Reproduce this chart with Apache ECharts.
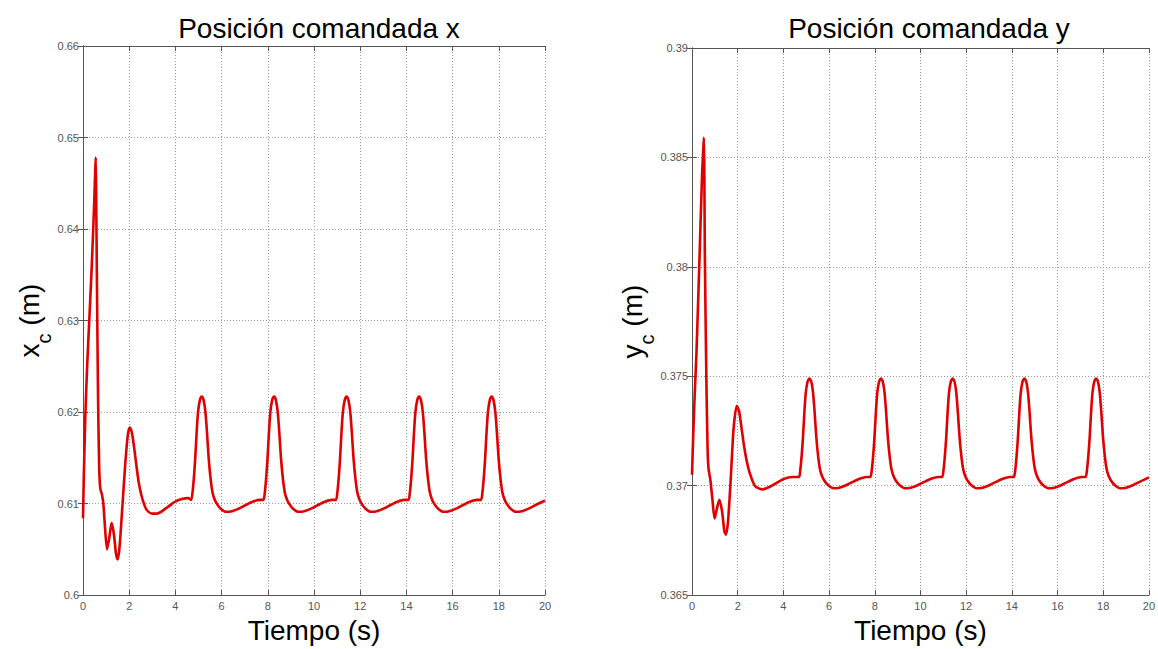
<!DOCTYPE html>
<html>
<head>
<meta charset="utf-8">
<title>Posición comandada</title>
<script src="https://cdn.jsdelivr.net/npm/echarts@6/dist/echarts.min.js"></script>
<style>
  html, body { margin: 0; padding: 0; background: #ffffff; }
  #chart { width: 1158px; height: 649px; }
</style>
</head>
<body>
<div id="chart"></div>
<script>
// Posición comandada del efector: componentes x e y frente al tiempo.

// Eje de tiempo (s)
const xTicks = [0, 2, 4, 6, 8, 10, 12, 14, 16, 18, 20];

// Componente x: tiempo (s) y posición x_c (m)
const tiempoX = [
  0.00, 0.04, 0.10, 0.18, 0.28, 0.38, 0.48, 0.53, 0.55, 0.57, 0.60, 0.65, 0.70, 0.75, 0.82, 0.88, 0.95,
  1.04, 1.14, 1.24, 1.34, 1.43, 1.50, 1.58, 1.70, 1.82, 1.94, 2.03, 2.12, 2.22, 2.32, 2.42, 2.54, 2.65,
  2.76, 3.00, 3.20, 3.60, 3.98, 4.27, 4.55,
  4.68, 4.74, 4.80, 4.86, 4.92, 4.98, 5.06, 5.14, 5.22, 5.30, 5.37, 5.44, 5.52, 5.60, 5.69, 5.79, 5.94,
  6.19, 6.49, 6.79, 7.09, 7.34, 7.64,
  7.81, 7.87, 7.93, 7.99, 8.05, 8.11, 8.19, 8.27, 8.35, 8.43, 8.50, 8.57, 8.65, 8.73, 8.82, 8.92, 9.07,
  9.32, 9.62, 9.92, 10.22, 10.47, 10.77,
  10.95, 11.01, 11.07, 11.13, 11.19, 11.25, 11.33, 11.41, 11.49, 11.57, 11.64, 11.71, 11.79, 11.87, 11.96,
  12.06, 12.21, 12.46, 12.76, 13.06, 13.36, 13.61, 13.91,
  14.09, 14.15, 14.21, 14.27, 14.33, 14.39, 14.47, 14.55, 14.63, 14.71, 14.78, 14.85, 14.93, 15.01, 15.10,
  15.20, 15.35, 15.60, 15.90, 16.20, 16.50, 16.75, 17.05,
  17.23, 17.29, 17.35, 17.41, 17.47, 17.53, 17.61, 17.69, 17.77, 17.85, 17.92, 17.99, 18.07, 18.15, 18.24,
  18.34, 18.49, 18.74, 19.04, 19.34, 19.64, 19.89, 20.00
];
const posX = [
  0.6084, 0.6135, 0.6195, 0.6250, 0.6305, 0.6360, 0.6425, 0.6465, 0.6478, 0.6440, 0.6350, 0.6220, 0.6140, 0.6116, 0.6110, 0.6100, 0.6075,
  0.6050, 0.6063, 0.6079, 0.6066, 0.6045, 0.6039, 0.6052, 0.6095, 0.6140, 0.6175, 0.6183, 0.6177, 0.6160, 0.6140, 0.6122, 0.6108, 0.6099,
  0.6093, 0.6089, 0.6089, 0.6095, 0.6102, 0.6105, 0.6106,
  0.6104, 0.6112, 0.6128, 0.6150, 0.6178, 0.6200, 0.6213, 0.6217, 0.6213, 0.6200, 0.6177, 0.6150, 0.6128, 0.6113, 0.6105, 0.6100, 0.6095,
  0.6091, 0.6092, 0.6095, 0.6099, 0.6102, 0.6104,
  0.6104, 0.6112, 0.6128, 0.6150, 0.6178, 0.6200, 0.6213, 0.6217, 0.6213, 0.6200, 0.6177, 0.6150, 0.6128, 0.6113, 0.6105, 0.6100, 0.6095,
  0.6091, 0.6092, 0.6095, 0.6099, 0.6102, 0.6104,
  0.6104, 0.6112, 0.6128, 0.6150, 0.6178, 0.6200, 0.6213, 0.6217, 0.6213, 0.6200, 0.6177, 0.6150, 0.6128, 0.6113, 0.6105,
  0.6100, 0.6095, 0.6091, 0.6092, 0.6095, 0.6099, 0.6102, 0.6104,
  0.6104, 0.6112, 0.6128, 0.6150, 0.6178, 0.6200, 0.6213, 0.6217, 0.6213, 0.6200, 0.6177, 0.6150, 0.6128, 0.6113, 0.6105,
  0.6100, 0.6095, 0.6091, 0.6092, 0.6095, 0.6099, 0.6102, 0.6104,
  0.6104, 0.6112, 0.6128, 0.6150, 0.6178, 0.6200, 0.6213, 0.6217, 0.6213, 0.6200, 0.6177, 0.6150, 0.6128, 0.6113, 0.6105,
  0.6100, 0.6095, 0.6091, 0.6092, 0.6095, 0.6099, 0.6102, 0.6103
];

// Componente y: tiempo (s) y posición y_c (m)
const tiempoY = [
  0.00, 0.05, 0.12, 0.20, 0.34, 0.44, 0.50, 0.52, 0.54, 0.56, 0.63, 0.68, 0.72, 0.80, 0.90, 0.99,
  1.10, 1.20, 1.32, 1.42, 1.49, 1.58, 1.70, 1.82, 1.96, 2.06, 2.16, 2.28, 2.40, 2.52, 2.75, 3.07, 3.50, 4.00, 4.40,
  4.68, 4.74, 4.80, 4.86, 4.92, 4.98, 5.06, 5.14, 5.22, 5.30, 5.37, 5.44, 5.52, 5.60, 5.69, 5.79, 5.94,
  6.19, 6.49, 6.79, 7.09, 7.34, 7.64,
  7.81, 7.87, 7.93, 7.99, 8.05, 8.11, 8.19, 8.27, 8.35, 8.43, 8.50, 8.57, 8.65, 8.73, 8.82, 8.92, 9.07,
  9.32, 9.62, 9.92, 10.22, 10.47, 10.77,
  10.95, 11.01, 11.07, 11.13, 11.19, 11.25, 11.33, 11.41, 11.49, 11.57, 11.64, 11.71, 11.79, 11.87, 11.96,
  12.06, 12.21, 12.46, 12.76, 13.06, 13.36, 13.61, 13.91,
  14.09, 14.15, 14.21, 14.27, 14.33, 14.39, 14.47, 14.55, 14.63, 14.71, 14.78, 14.85, 14.93, 15.01, 15.10,
  15.20, 15.35, 15.60, 15.90, 16.20, 16.50, 16.75, 17.05,
  17.23, 17.29, 17.35, 17.41, 17.47, 17.53, 17.61, 17.69, 17.77, 17.85, 17.92, 17.99, 18.07, 18.15, 18.24,
  18.34, 18.49, 18.74, 19.04, 19.34, 19.64, 19.89, 20.00
];
const posY = [
  0.37050, 0.37220, 0.37420, 0.37620, 0.38080, 0.38420, 0.38550, 0.38590, 0.38450, 0.38080, 0.37480, 0.37180, 0.37080, 0.37030, 0.36930, 0.36850,
  0.36900, 0.36935, 0.36880, 0.36790, 0.36776, 0.36840, 0.37040, 0.37260, 0.37365, 0.37340, 0.37270, 0.37180, 0.37110, 0.37060, 0.37000, 0.36983, 0.37000, 0.37030, 0.37040,
  0.37040, 0.37072, 0.37136, 0.37224, 0.37336, 0.37424, 0.37476, 0.37490, 0.37476, 0.37424, 0.37332, 0.37224, 0.37136, 0.37076, 0.37044, 0.37024, 0.37004,
  0.36988, 0.36992, 0.37004, 0.37020, 0.37032, 0.37040,
  0.37040, 0.37072, 0.37136, 0.37224, 0.37336, 0.37424, 0.37476, 0.37490, 0.37476, 0.37424, 0.37332, 0.37224, 0.37136, 0.37076, 0.37044, 0.37024, 0.37004,
  0.36988, 0.36992, 0.37004, 0.37020, 0.37032, 0.37040,
  0.37040, 0.37072, 0.37136, 0.37224, 0.37336, 0.37424, 0.37476, 0.37490, 0.37476, 0.37424, 0.37332, 0.37224, 0.37136, 0.37076, 0.37044,
  0.37024, 0.37004, 0.36988, 0.36992, 0.37004, 0.37020, 0.37032, 0.37040,
  0.37040, 0.37072, 0.37136, 0.37224, 0.37336, 0.37424, 0.37476, 0.37490, 0.37476, 0.37424, 0.37332, 0.37224, 0.37136, 0.37076, 0.37044,
  0.37024, 0.37004, 0.36988, 0.36992, 0.37004, 0.37020, 0.37032, 0.37040,
  0.37040, 0.37072, 0.37136, 0.37224, 0.37336, 0.37424, 0.37476, 0.37490, 0.37476, 0.37424, 0.37332, 0.37224, 0.37136, 0.37076, 0.37044,
  0.37024, 0.37004, 0.36988, 0.36992, 0.37004, 0.37020, 0.37032, 0.37038
];

// Rangos de los ejes verticales
const yTicksX = [0.60, 0.61, 0.62, 0.63, 0.64, 0.65, 0.66];
const yTicksY = [0.365, 0.37, 0.375, 0.38, 0.385, 0.39];

const titulos = ['Posición comandada x', 'Posición comandada y'];
const nombreX = 'Tiempo (s)';
const simbolos = ['x', 'y'];

const FONT = '"Liberation Sans", Arial, Helvetica, sans-serif';
const AXIS_COLOR = '#555555';
const GRID_COLOR = '#9a9a9a';
const LINE_COLOR = '#e00000';

const zip = (ts, vs) => ts.map((t, i) => [t, vs[i]]);

const grids = [
  { left: 83, top: 46, width: 462, height: 555 },
  { left: 692, top: 48, width: 465, height: 553 }
];

function bottomAxis(gi) {
  return {
    type: 'value', gridIndex: gi, position: 'bottom',
    min: xTicks[0], max: xTicks[xTicks.length - 1], interval: xTicks[1] - xTicks[0],
    name: nombreX, nameLocation: 'middle', nameGap: 18,
    nameTextStyle: { fontFamily: FONT, fontSize: 28, color: '#000' },
    axisLine: { show: true, lineStyle: { color: AXIS_COLOR, width: 1 } },
    axisTick: { show: true, inside: true, length: 5, lineStyle: { color: AXIS_COLOR } },
    axisLabel: { show: true, fontFamily: FONT, fontSize: 11, color: '#555', margin: 5,
                 showMinLabel: true, showMaxLabel: true, hideOverlap: false },
    splitLine: { show: true, lineStyle: { color: GRID_COLOR, type: [1, 2], width: 1 } }
  };
}
function topAxis(gi) {
  return {
    type: 'value', gridIndex: gi, position: 'top',
    min: xTicks[0], max: xTicks[xTicks.length - 1], interval: xTicks[1] - xTicks[0],
    axisLine: { show: true, lineStyle: { color: AXIS_COLOR, width: 1 } },
    axisTick: { show: true, inside: true, length: 5, lineStyle: { color: AXIS_COLOR } },
    axisLabel: { show: false },
    splitLine: { show: false }
  };
}
function leftAxis(gi, ticks, simbolo) {
  return {
    type: 'value', gridIndex: gi, position: 'left',
    min: ticks[0], max: ticks[ticks.length - 1],
    interval: +(ticks[1] - ticks[0]).toFixed(4),
    name: '{v|' + simbolo + '}{s|c}{v| (m)}',
    nameLocation: 'middle', nameRotate: 90, nameGap: 36,
    nameTextStyle: {
      fontFamily: FONT, color: '#000',
      rich: {
        v: { fontFamily: FONT, fontSize: 28, color: '#000', lineHeight: 30, verticalAlign: 'top' },
        s: { fontFamily: FONT, fontSize: 20, color: '#000', lineHeight: 20, padding: [18, 0, 0, 0], verticalAlign: 'top' }
      }
    },
    axisLine: { show: true, lineStyle: { color: AXIS_COLOR, width: 1 } },
    axisTick: { show: true, inside: true, length: 5, lineStyle: { color: AXIS_COLOR } },
    axisLabel: { show: true, fontFamily: FONT, fontSize: 11, color: '#555', margin: 4,
                 showMinLabel: true, showMaxLabel: true, hideOverlap: false },
    splitLine: { show: true, lineStyle: { color: GRID_COLOR, type: [1, 2], width: 1 } }
  };
}
function rightAxis(gi, ticks) {
  return {
    type: 'value', gridIndex: gi, position: 'right',
    min: ticks[0], max: ticks[ticks.length - 1],
    interval: +(ticks[1] - ticks[0]).toFixed(4),
    axisLine: { show: true, lineStyle: { color: AXIS_COLOR, width: 1 } },
    axisTick: { show: true, inside: true, length: 5, lineStyle: { color: AXIS_COLOR } },
    axisLabel: { show: false },
    splitLine: { show: false }
  };
}

function lineSeries(xi, yi, data) {
  return {
    type: 'line', xAxisIndex: xi, yAxisIndex: yi, data: data,
    showSymbol: false, symbol: 'none', smooth: 0.25,
    lineStyle: { color: LINE_COLOR, width: 2.6, join: 'round' },
    clip: true, animation: false
  };
}

const chart = echarts.init(document.getElementById('chart'), null, { renderer: 'svg' });
chart.setOption({
  animation: false,
  backgroundColor: '#ffffff',
  title: [
    { text: titulos[0], left: 314, top: 9, textAlign: 'center',
      textStyle: { fontFamily: FONT, fontSize: 28, fontWeight: 'normal', color: '#000' } },
    { text: titulos[1], left: 924, top: 9, textAlign: 'center',
      textStyle: { fontFamily: FONT, fontSize: 28, fontWeight: 'normal', color: '#000' } }
  ],
  grid: grids,
  xAxis: [bottomAxis(0), topAxis(0), bottomAxis(1), topAxis(1)],
  yAxis: [leftAxis(0, yTicksX, simbolos[0]), rightAxis(0, yTicksX),
          leftAxis(1, yTicksY, simbolos[1]), rightAxis(1, yTicksY)],
  series: [
    lineSeries(0, 0, zip(tiempoX, posX)),
    lineSeries(2, 2, zip(tiempoY, posY))
  ]
});
</script>
</body>
</html>
